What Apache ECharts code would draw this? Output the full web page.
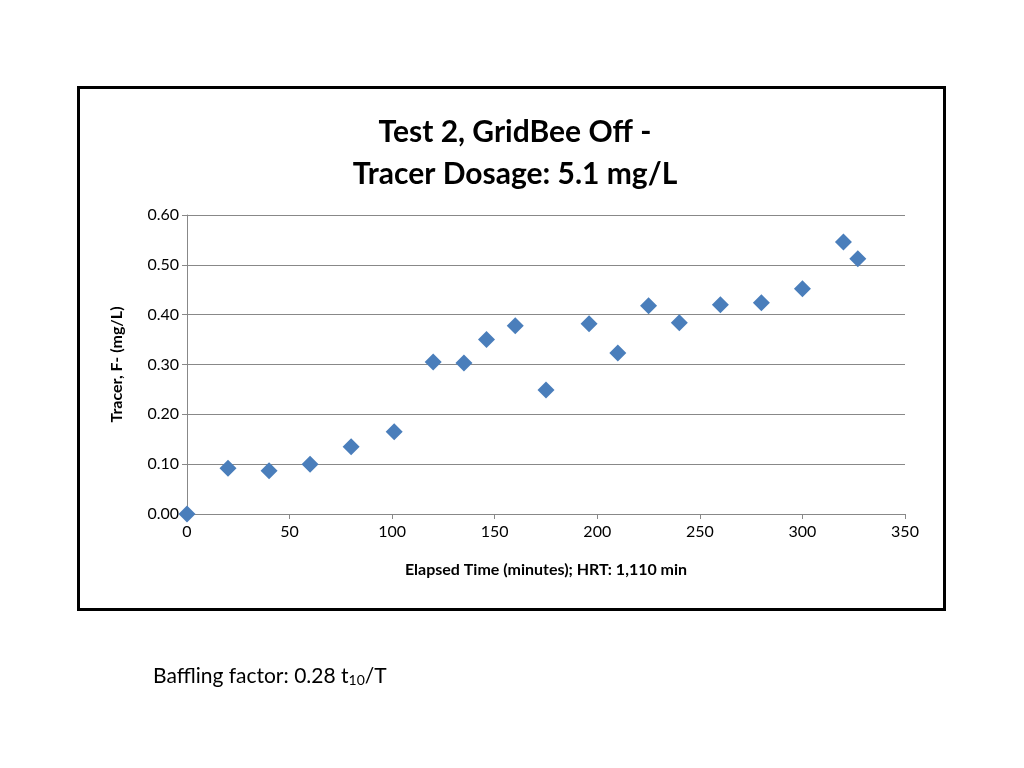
<!DOCTYPE html>
<html>
<head>
<meta charset="utf-8">
<script src="https://cdn.jsdelivr.net/npm/echarts@6/dist/echarts.min.js"></script>
<style>html,body{margin:0;padding:0;background:#fff}#main{width:1024px;height:768px}</style>
</head>
<body>
<div id="main"></div>
<script>
var elapsedMinutes = [0, 20, 40, 60, 80, 101, 120, 135, 146, 160, 175, 196, 210, 225, 240, 260, 280, 300, 320, 327];
var tracerValues = [0.0, 0.092, 0.087, 0.10, 0.135, 0.165, 0.305, 0.303, 0.35, 0.378, 0.249, 0.382, 0.323, 0.418, 0.384, 0.42, 0.424, 0.452, 0.546, 0.512];

var points = [];
for (var i = 0; i < elapsedMinutes.length; i++) {
    points.push([elapsedMinutes[i], tracerValues[i]]);
}

var chart = echarts.init(document.getElementById('main'));
var fontFam = 'Lato, "Open Sans", sans-serif';
chart.setOption({
    animation: false,
    textStyle: { fontFamily: fontFam },
    title: [{
        text: 'Test 2, GridBee Off -\nTracer Dosage: 5.1 mg/L',
        left: 510, top: 106, textAlign: 'center',
        textStyle: { fontSize: 30, fontWeight: 'bold', color: '#000', lineHeight: 42, fontFamily: fontFam }
    }, {
        text: '{a|Baffling factor: 0.28 t}{s|10}{a|/T}',
        left: 148, top: 658,
        textStyle: {
            fontWeight: 'normal',
            rich: {
                a: { fontSize: 21, color: '#000', fontWeight: 'normal', fontFamily: fontFam, verticalAlign: 'bottom' },
                s: { fontSize: 14, color: '#000', fontWeight: 'normal', fontFamily: fontFam, padding: [10, 0, 0, 0], verticalAlign: 'bottom' }
            }
        }
    }],
    graphic: [{
        type: 'rect', left: 76, top: 85,
        shape: { width: 866, height: 522 },
        style: { fill: 'none', stroke: '#000', lineWidth: 3 }
    }],
    grid: { left: 187, right: 119, top: 215, bottom: 254 },
    xAxis: {
        type: 'value', min: 0, max: 350, interval: 50,
        name: 'Elapsed Time (minutes); HRT: 1,110 min',
        nameLocation: 'middle', nameGap: 48,
        nameTextStyle: { fontSize: 16, fontWeight: 'bold', color: '#000' },
        axisLine: { lineStyle: { color: '#888' } },
        axisTick: { show: true, lineStyle: { color: '#888' } },
        axisLabel: { fontSize: 16, color: '#000', margin: 10 },
        splitLine: { show: false }
    },
    yAxis: {
        type: 'value', min: 0, max: 0.6, interval: 0.1,
        name: 'Tracer, F- (mg/L)',
        nameLocation: 'middle', nameGap: 62,
        nameTextStyle: { fontSize: 16, fontWeight: 'bold', color: '#000' },
        axisLine: { show: true, lineStyle: { color: '#888' } },
        axisTick: { show: true, lineStyle: { color: '#888' } },
        axisLabel: { fontSize: 16, color: '#000', formatter: function (v) { return v.toFixed(2); } },
        splitLine: { lineStyle: { color: '#888' } }
    },
    series: [{
        type: 'scatter',
        symbol: 'diamond',
        symbolSize: 17,
        itemStyle: { color: '#4a7ebb', opacity: 1 },
        data: points
    }]
});
</script>
</body>
</html>
